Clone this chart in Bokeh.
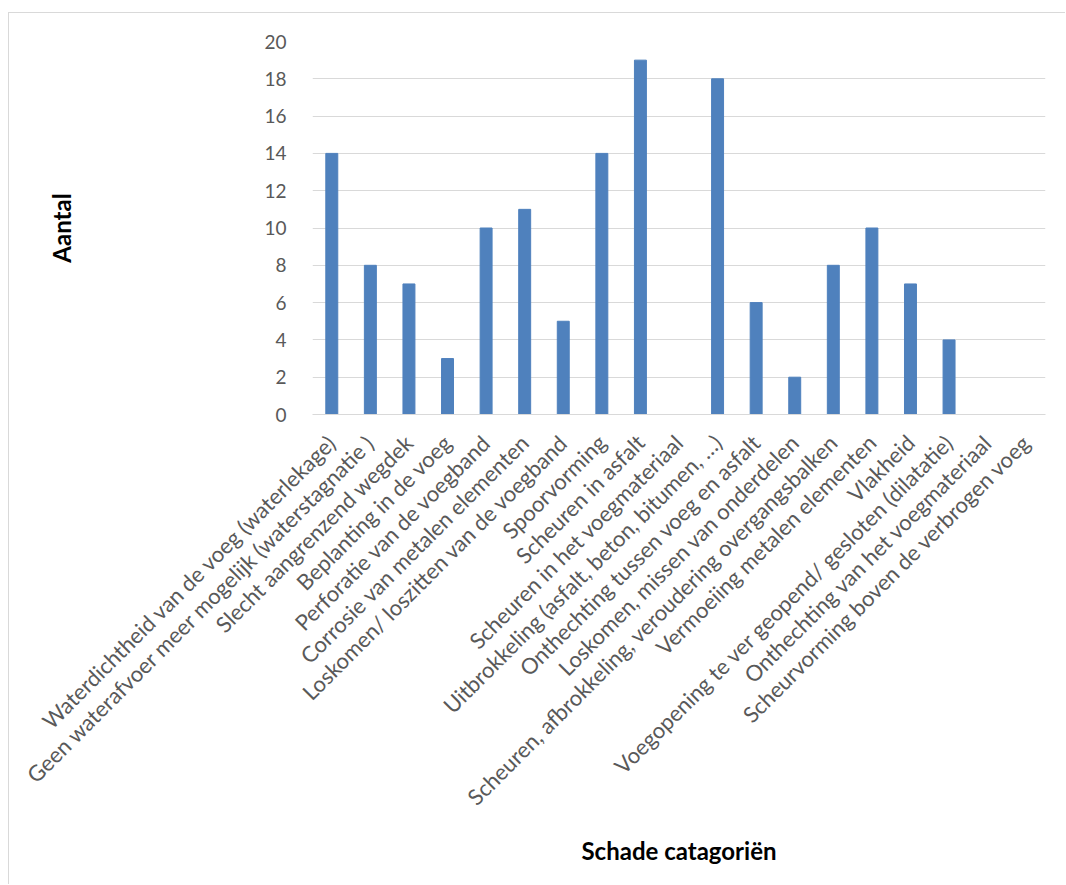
import math
from bokeh.plotting import figure
from bokeh.models import FactorRange, Range1d, SingleIntervalTicker, ColumnDataSource
from bokeh.embed import file_html
from bokeh.resources import INLINE

# Damage categories and counts per category
categories = [
    "Waterdichtheid van de voeg (waterlekage)",
    "Geen waterafvoer meer mogelijk (waterstagnatie )",
    "Slecht aangrenzend wegdek",
    "Beplanting in de voeg",
    "Perforatie van de voegband",
    "Corrosie van metalen elementen",
    "Loskomen/ loszitten van de voegband",
    "Spoorvorming",
    "Scheuren in asfalt",
    "Scheuren in het voegmateriaal",
    "Uitbrokkeling (asfalt, beton, bitumen, …)",
    "Onthechting tussen voeg en asfalt",
    "Loskomen, missen van onderdelen",
    "Scheuren, afbrokkeling, veroudering overgangsbalken",
    "Vermoeiing metalen elementen",
    "Vlakheid",
    "Voegopening te ver geopend/ gesloten (dilatatie)",
    "Onthechting van het voegmateriaal",
    "Scheurvorming boven de verbrogen voeg",
]
counts = [14, 8, 7, 3, 10, 11, 5, 14, 19, 0, 18, 6, 2, 8, 10, 7, 4, 0, 0]

source = ColumnDataSource(data=dict(cat=categories, n=counts))

FONT = "Lato"
GRAY = "#595959"

p = figure(
    x_range=FactorRange(*categories, range_padding=0.0),
    y_range=Range1d(0, 20),
    width=1057,
    height=872,
    output_backend="svg",
    toolbar_location=None,
    min_border_left=303,
    min_border_right=21,
    min_border_top=28,
    min_border_bottom=471,
)
p.margin = (12, 0, 0, 8)
p.styles = {"border-left": "1px solid #d9d9d9", "border-top": "1px solid #d9d9d9"}
p.outline_line_color = None
p.background_fill_color = "white"
p.border_fill_color = "white"

p.vbar(x="cat", top="n", width=0.31, source=source,
       fill_color="#4f81bd", line_color="#4f81bd")

# grid
p.xgrid.grid_line_color = None
p.ygrid.grid_line_color = "#d9d9d9"
p.ygrid.grid_line_width = 1

# y axis
p.yaxis.ticker = SingleIntervalTicker(interval=2)
p.yaxis.axis_line_color = None
p.yaxis.major_tick_line_color = None
p.yaxis.minor_tick_line_color = None
p.yaxis.major_label_text_font = FONT
p.yaxis.major_label_text_font_size = "19px"
p.yaxis.major_label_text_color = GRAY
p.yaxis.major_label_standoff = 20
p.yaxis.axis_label = "Aantal"
p.yaxis.axis_label_text_font = FONT
p.yaxis.axis_label_text_font_size = "24px"
p.yaxis.axis_label_text_font_style = "bold"
p.yaxis.axis_label_text_color = "black"
p.yaxis.axis_label_standoff = 185

# x axis
p.xaxis.axis_line_color = "#d9d9d9"
p.xaxis.major_tick_line_color = None
p.xaxis.minor_tick_line_color = None
p.xaxis.major_label_orientation = math.pi / 4
p.xaxis.major_label_text_font = FONT
p.xaxis.major_label_text_font_size = "22px"
p.xaxis.major_label_text_color = GRAY
p.xaxis.major_label_standoff = 18
p.xaxis.axis_label = "Schade catagoriën"
p.xaxis.axis_label_text_font = FONT
p.xaxis.axis_label_text_font_size = "24px"
p.xaxis.axis_label_text_font_style = "bold"
p.xaxis.axis_label_text_color = "black"
p.xaxis.axis_label_standoff = 13

open("out.html", "w").write(file_html(p, INLINE))
